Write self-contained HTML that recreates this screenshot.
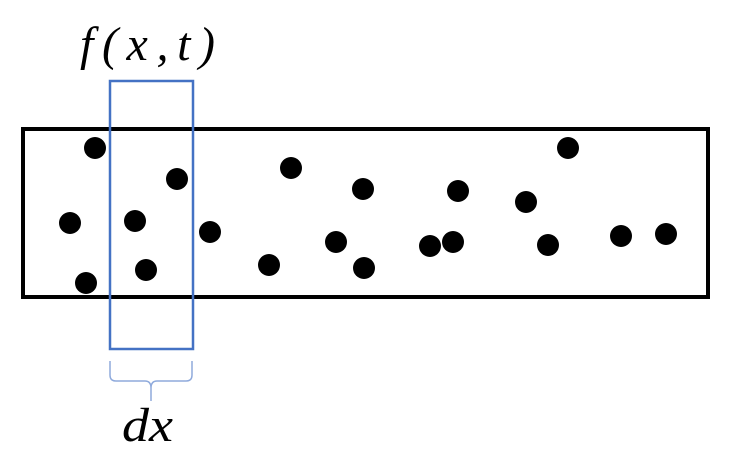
<!DOCTYPE html>
<html><head><style>body{margin:0;background:#fff}</style></head><body>
<svg width="732" height="456" xmlns="http://www.w3.org/2000/svg">
<rect x="0" y="0" width="732" height="456" fill="#fff"/>
<rect x="23" y="129" width="685" height="168" fill="none" stroke="#000" stroke-width="4"/>
<g fill="#000">
<circle cx="95" cy="148" r="11"/><circle cx="177" cy="179" r="11"/><circle cx="291" cy="168" r="11"/>
<circle cx="363" cy="189" r="11"/><circle cx="458" cy="191" r="11"/><circle cx="568" cy="148" r="11"/>
<circle cx="526" cy="202" r="11"/><circle cx="70" cy="223" r="11"/><circle cx="135" cy="221" r="11"/>
<circle cx="210" cy="232" r="11"/><circle cx="336" cy="242" r="11"/><circle cx="430" cy="246" r="11"/>
<circle cx="453" cy="242" r="11"/><circle cx="548" cy="245" r="11"/><circle cx="621" cy="236" r="11"/>
<circle cx="666" cy="234" r="11"/><circle cx="86" cy="283" r="11"/><circle cx="146" cy="270" r="11"/>
<circle cx="269" cy="265" r="11"/><circle cx="364" cy="268" r="11"/>
</g>
<rect x="110" y="81" width="83" height="268" fill="none" stroke="#4472C4" stroke-width="2.5"/>
<path d="M110 361 V375 Q110 381 116 381 H145 Q151 381 151 388 V401 M151 388 Q151 381 157 381 H186 Q192 381 192 375 V361" fill="none" stroke="#8FAADC" stroke-width="1.5"/>
<text x="80" y="60" font-family="Liberation Serif, serif" font-style="italic" font-size="48" textLength="135" lengthAdjust="spacing">f(x,t)</text>
<text x="122" y="441" font-family="Liberation Serif, serif" font-style="italic" font-size="48" textLength="51" lengthAdjust="spacingAndGlyphs">dx</text>
</svg>
</body></html>
